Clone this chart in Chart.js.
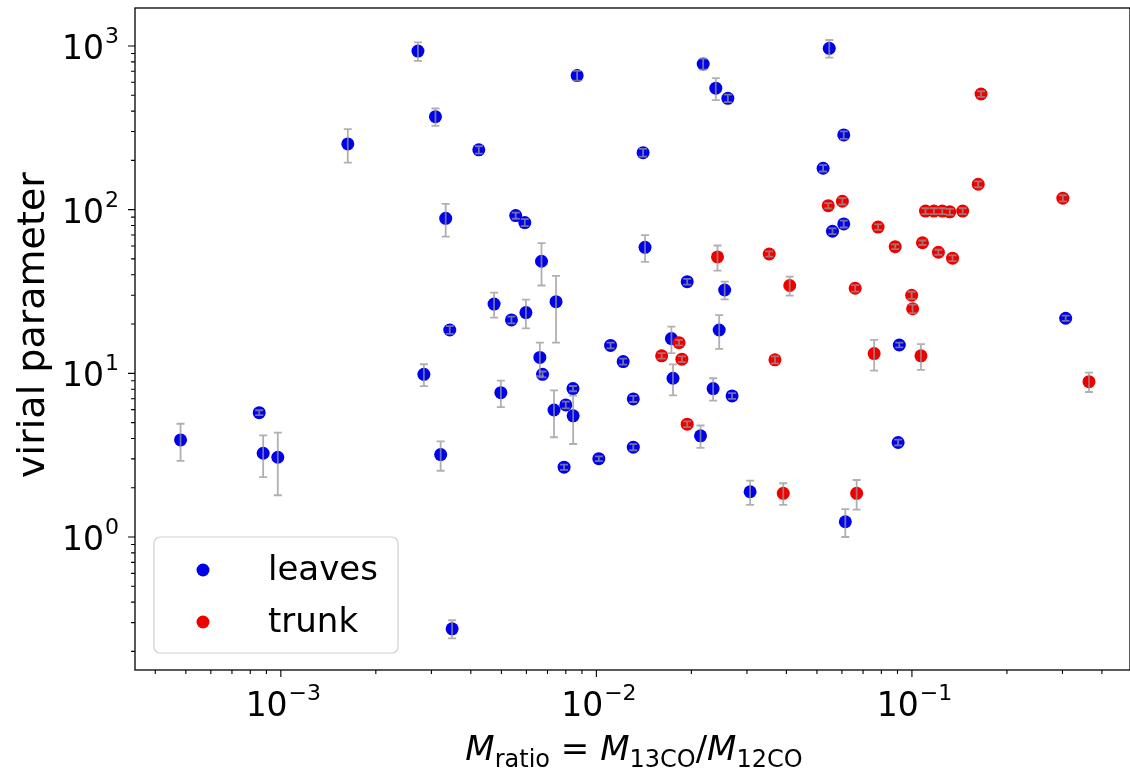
<!DOCTYPE html>
<html>
<head>
<meta charset="utf-8">
<script src="https://cdn.jsdelivr.net/npm/chart.js@4.4.0/dist/chart.umd.min.js"></script>
<style>
    html, body { margin: 0; padding: 0; background: #fff; }
    canvas { display: block; }
</style>
</head>
<body>
<canvas id="myChart" width="1130" height="769"></canvas>
<script>
// leaves: M_ratio, virial parameter, error on virial parameter
const leavesX = [
    0.00272, 0.00869, 0.0218, 0.0239, 0.0261, 0.0547, 0.00309, 0.00163, 0.00424, 0.01406,
    0.0608, 0.0523, 0.00333, 0.00555, 0.00593, 0.0608, 0.0560, 0.00670, 0.01426, 0.0194,
    0.0255, 0.00474, 0.00538, 0.00598, 0.00745, 0.00343, 0.0245, 0.307, 0.01109, 0.01216,
    0.01729, 0.00662, 0.00675, 0.00284, 0.0912, 0.01749, 0.00498, 0.00843, 0.00734, 0.00800,
    0.00844, 0.01309, 0.02344, 0.02692, 0.000854, 0.000481, 0.000879, 0.000978, 0.00321, 0.01309,
    0.01018, 0.00790, 0.02138, 0.0904, 0.0307, 0.0615, 0.00349
];
const leavesY = [
    931, 659, 776, 552, 479, 968, 370, 252, 232, 223,
    286, 179, 88.5, 92, 83.4, 81.8, 73.8, 48.4, 58.9, 36.3,
    32.3, 26.5, 21.2, 23.5, 27.4, 18.4, 18.4, 21.7, 14.8, 11.8,
    16.3, 12.5, 9.86, 9.86, 14.9, 9.33, 7.62, 8.07, 5.97, 6.41,
    5.50, 6.98, 8.07, 7.28, 5.75, 3.92, 3.25, 3.07, 3.19, 3.54,
    3.01, 2.67, 4.15, 3.78, 1.89, 1.24, 0.275
];
const leavesErr = [
    120, 45, 60, 85, 25, 120, 45, 58, 12, 12,
    15, 8, 20, 4, 4, 4, 3, 14, 11, 1.5,
    4, 4.6, 1, 4.7, 12, 1, 4.3, 0.8, 0.6, 0.5,
    3, 2.9, 0.4, 1.5, 0.5, 2.0, 1.4, 0.3, 1.9, 0.3,
    1.8, 0.3, 1.26, 0.3, 0.2, 1.0, 0.93, 1.27, 0.65, 0.15,
    0.1, 0.1, 0.65, 0.15, 0.32, 0.24, 0.035
];

// trunk
const trunkX = [
    0.1656, 0.1622, 0.3008, 0.0543, 0.0602, 0.1104, 0.1174, 0.1248, 0.1318, 0.1448,
    0.0781, 0.0885, 0.1080, 0.1213, 0.1345, 0.0242, 0.0353, 0.0410, 0.0661, 0.0998,
    0.1005, 0.01828, 0.01610, 0.01866, 0.0368, 0.0759, 0.1068, 0.364, 0.0194, 0.0391,
    0.0668
];
const trunkY = [
    509, 143, 117.5, 105.7, 112.5, 98, 98, 98, 97, 98,
    78.3, 59.4, 62.8, 54.9, 50.5, 51.4, 53.6, 34.4, 33.1, 30.0,
    24.8, 15.4, 12.8, 12.2, 12.1, 13.2, 12.8, 8.89, 4.89, 1.85,
    1.85
];
const trunkErr = [
    20, 6, 5, 4, 5, 4, 4, 4, 4, 4,
    3, 2, 2, 2, 2, 9, 2, 4.6, 1.5, 1.5,
    1.5, 0.6, 0.5, 0.5, 0.6, 2.8, 2.3, 1.2, 0.2, 0.28,
    0.38
];

const xTickValues = [1e-3, 1e-2, 1e-1];
const xTickExps = ["\u22123", "\u22122", "\u22121"];
const yTickValues = [1e0, 1e1, 1e2, 1e3];
const yTickExps = ["0", "1", "2", "3"];

const FONT = "'DejaVu Sans', 'Liberation Sans', sans-serif";

function toPoints(xs, ys, errs) {
    return xs.map((x, i) => ({ x: x, y: ys[i], err: errs[i] }));
}

// error bars, ticks, labels, titles and legend
const decorPlugin = {
    id: "decor",
    afterDatasetsDraw(chart) {
        const ctx = chart.ctx;
        const xs = chart.scales.x;
        const ys = chart.scales.y;
        ctx.save();
        ctx.strokeStyle = "rgba(150,150,150,0.75)";
        ctx.lineWidth = 1.8;
        chart.data.datasets.forEach((ds) => {
            ds.data.forEach((p) => {
                const px = xs.getPixelForValue(p.x);
                const lo = Math.max(p.y - p.err, ys.min);
                const yTop = ys.getPixelForValue(p.y + p.err);
                const yBot = ys.getPixelForValue(lo);
                ctx.beginPath();
                ctx.moveTo(px, yTop);
                ctx.lineTo(px, yBot);
                ctx.moveTo(px - 4, yTop);
                ctx.lineTo(px + 4, yTop);
                ctx.moveTo(px - 4, yBot);
                ctx.lineTo(px + 4, yBot);
                ctx.stroke();
            });
        });
        ctx.restore();
    },
    afterDraw(chart) {
        const ctx = chart.ctx;
        const area = chart.chartArea;
        const xs = chart.scales.x;
        const ys = chart.scales.y;
        ctx.save();

        // frame
        ctx.strokeStyle = "#000";
        ctx.lineWidth = 1.3;
        ctx.strokeRect(area.left, area.top, area.right - area.left, area.bottom - area.top);

        // major + minor ticks
        ctx.lineWidth = 1.1;
        ctx.beginPath();
        for (let d = -4; d <= 0; d++) {
            for (let m = 1; m <= 9; m++) {
                const v = m * Math.pow(10, d);
                if (v < xs.min || v > xs.max) continue;
                const px = xs.getPixelForValue(v);
                ctx.moveTo(px, area.bottom);
                ctx.lineTo(px, area.bottom + (m === 1 ? 7 : 4));
            }
        }
        for (let d = -1; d <= 3; d++) {
            for (let m = 1; m <= 9; m++) {
                const v = m * Math.pow(10, d);
                if (v < ys.min || v > ys.max) continue;
                const py = ys.getPixelForValue(v);
                ctx.moveTo(area.left, py);
                ctx.lineTo(area.left - (m === 1 ? 7 : 4), py);
            }
        }
        ctx.stroke();

        // tick labels 10^n
        ctx.fillStyle = "#000";
        ctx.textBaseline = "alphabetic";
        ctx.textAlign = "left";
        const baseFont = "33px " + FONT;
        const expFont = "22px " + FONT;
        xTickValues.forEach((v, i) => {
            const px = xs.getPixelForValue(v);
            ctx.font = baseFont;
            const w1 = ctx.measureText("10").width;
            ctx.font = expFont;
            const w2 = ctx.measureText(xTickExps[i]).width;
            const x0 = px - (w1 + w2) / 2 + 2;
            ctx.font = baseFont;
            ctx.fillText("10", x0, 716);
            ctx.font = expFont;
            ctx.fillText(xTickExps[i], x0 + w1 + 1, 700);
        });
        yTickValues.forEach((v, i) => {
            const py = ys.getPixelForValue(v);
            ctx.font = baseFont;
            const w1 = ctx.measureText("10").width;
            ctx.font = expFont;
            const w2 = ctx.measureText(yTickExps[i]).width;
            const x0 = 119 - w1 - w2 - 1;
            ctx.font = baseFont;
            ctx.fillText("10", x0, py + 13);
            ctx.font = expFont;
            ctx.fillText(yTickExps[i], x0 + w1 + 1, py - 3);
        });

        // y title
        ctx.save();
        ctx.translate(44, 325);
        ctx.rotate(-Math.PI / 2);
        ctx.textAlign = "center";
        ctx.font = "38px " + FONT;
        ctx.fillText("virial parameter", 0, 0);
        ctx.restore();

        // x title with subscripts
        const parts = [
            { t: "M", f: "italic 34px " + FONT, dy: 0 },
            { t: "ratio", f: "24px " + FONT, dy: 7 },
            { t: " = ", f: "34px " + FONT, dy: 0 },
            { t: "M", f: "italic 34px " + FONT, dy: 0 },
            { t: "13CO", f: "24px " + FONT, dy: 7 },
            { t: "/", f: "34px " + FONT, dy: 0 },
            { t: "M", f: "italic 34px " + FONT, dy: 0 },
            { t: "12CO", f: "24px " + FONT, dy: 7 },
        ];
        let total = 0;
        parts.forEach((p) => { ctx.font = p.f; p.w = ctx.measureText(p.t).width; total += p.w; });
        let cx = 634 - total / 2;
        parts.forEach((p) => {
            ctx.font = p.f;
            ctx.fillText(p.t, cx, 760 + p.dy);
            cx += p.w;
        });

        // legend
        const lx = 154, ly = 537, lw = 244, lh = 116, r = 6;
        ctx.beginPath();
        ctx.moveTo(lx + r, ly);
        ctx.arcTo(lx + lw, ly, lx + lw, ly + lh, r);
        ctx.arcTo(lx + lw, ly + lh, lx, ly + lh, r);
        ctx.arcTo(lx, ly + lh, lx, ly, r);
        ctx.arcTo(lx, ly, lx + lw, ly, r);
        ctx.closePath();
        ctx.fillStyle = "rgba(255,255,255,0.8)";
        ctx.fill();
        ctx.strokeStyle = "#d0d0d0";
        ctx.lineWidth = 1.2;
        ctx.stroke();
        const rows = [570, 622];
        chart.data.datasets.slice().sort((a, b) => b.order - a.order).forEach((ds, i) => {
            ctx.beginPath();
            ctx.arc(203, rows[i], 6.5, 0, Math.PI * 2);
            ctx.fillStyle = ds.backgroundColor;
            ctx.fill();
            ctx.fillStyle = "#000";
            ctx.font = "34px " + FONT;
            ctx.fillText(ds.label, 268, rows[i] + 10);
        });

        ctx.restore();
    }
};

const ctx = document.getElementById("myChart").getContext("2d");
const myChart = new Chart(ctx, {
    type: "scatter",
    data: {
        datasets: [
            {
                label: "leaves",
                data: toPoints(leavesX, leavesY, leavesErr),
                backgroundColor: "rgb(0,0,235)",
                borderWidth: 0,
                pointRadius: 6.5,
                pointHoverRadius: 6.5,
                order: 1,
            },
            {
                label: "trunk",
                data: toPoints(trunkX, trunkY, trunkErr),
                backgroundColor: "rgb(238,0,0)",
                borderWidth: 0,
                pointRadius: 6.5,
                pointHoverRadius: 6.5,
                order: 0,
            },
        ],
    },
    options: {
        responsive: false,
        animation: false,
        devicePixelRatio: 1,
        events: [],
        layout: { autoPadding: false, padding: { top: 8, right: 0, left: 0, bottom: 0 } },
        plugins: {
            legend: { display: false },
            tooltip: { enabled: false },
        },
        scales: {
            x: {
                type: "logarithmic",
                bounds: "data",
                min: 3.45e-4,
                max: 0.491,
                grid: { display: false },
                border: { display: false },
                ticks: { display: false },
                afterBuildTicks: (scale) => { scale.ticks = xTickValues.map((v) => ({ value: v })); },
                afterFit: (scale) => { scale.height = 99; },
            },
            y: {
                type: "logarithmic",
                bounds: "data",
                min: 0.154,
                max: 1706,
                grid: { display: false },
                border: { display: false },
                ticks: { display: false },
                afterBuildTicks: (scale) => { scale.ticks = yTickValues.map((v) => ({ value: v })); },
                afterFit: (scale) => { scale.width = 135; },
            },
        },
    },
    plugins: [decorPlugin],
});
</script>
</body>
</html>
